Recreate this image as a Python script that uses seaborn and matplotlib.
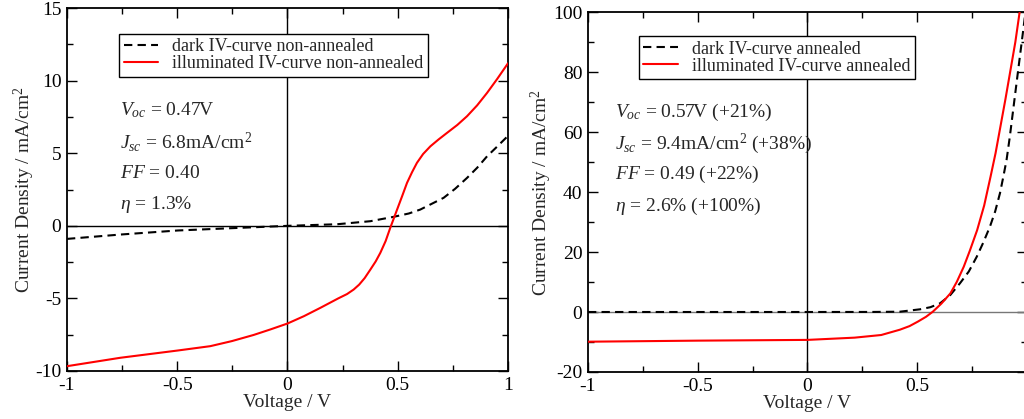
import numpy as np
import pandas as pd
import matplotlib
matplotlib.use("Agg")
import matplotlib.pyplot as plt
import seaborn as sns
from matplotlib.ticker import MultipleLocator

# ---- measured IV data (voltage in V, current density in mA/cm^2) ----
v_dark_na = [-1.0, -0.758, -0.498, -0.252, 0.0, 0.225, 0.376, 0.481, 0.55, 0.602,
             0.708, 0.76, 0.814, 0.86, 0.905, 0.95, 1.0]
j_dark_na = [-0.9, -0.6, -0.32, -0.16, 0.0, 0.11, 0.32, 0.62, 0.85, 1.12,
             1.93, 2.55, 3.30, 4.0, 4.79, 5.45, 6.2]

v_illum_na = [-1.0, -0.758, -0.498, -0.35, -0.252, -0.154, -0.078, 0.0, 0.075, 0.149,
              0.23, 0.27, 0.30, 0.325, 0.35, 0.376, 0.40, 0.421, 0.445, 0.466, 0.497,
              0.52, 0.542, 0.565, 0.587, 0.615, 0.648, 0.685, 0.723, 0.77, 0.814,
              0.86, 0.905, 0.95, 1.0]
j_illum_na = [-9.67, -9.09, -8.59, -8.29, -7.94, -7.52, -7.14, -6.73, -6.22, -5.65,
              -5.0, -4.7, -4.39, -4.05, -3.6, -3.01, -2.45, -1.86, -1.05, -0.14, 1.12,
              2.05, 2.96, 3.7, 4.34, 4.95, 5.48, 5.95, 6.40, 6.95, 7.55,
              8.3, 9.16, 10.1, 11.2]

v_dark_a = [-1.0, -0.5, 0.0, 0.3, 0.421, 0.513, 0.56, 0.604, 0.65, 0.695, 0.735,
            0.771, 0.80, 0.831, 0.855, 0.877, 0.892, 0.907, 0.922, 0.937, 0.960,
            0.983, 1.0]
j_dark_a = [0.0, 0.0, 0.0, 0.02, 0.1, 0.9, 1.6, 2.9, 5.6, 9.6, 13.5,
            18.4, 23.0, 28.4, 33.5, 39.6, 45.0, 50.7, 58.5, 67.3, 80.7,
            94.0, 104.0]

v_illum_a = [-1.0, -0.5, 0.0, 0.215, 0.336, 0.421, 0.465, 0.503, 0.54, 0.571, 0.61,
             0.651, 0.68, 0.712, 0.74, 0.773, 0.805, 0.834, 0.857, 0.879, 0.902,
             0.925, 0.947, 0.968]
j_illum_a = [-9.9, -9.55, -9.3, -8.55, -7.67, -5.9, -4.7, -3.2, -1.6, 0.1, 2.8,
             6.2, 10.0, 15.1, 20.5, 27.3, 35.5, 45.1, 53.0, 61.8, 71.0,
             80.7, 90.0, 100.7]

left_labels = ["dark IV-curve non-annealed", "illuminated IV-curve non-annealed"]
right_labels = ["dark IV-curve annealed", "illuminated IV-curve annealed"]

left_notes = [r"$V_{oc}$ = 0.47V", r"$J_{sc}$ = 6.8mA/cm$^2$",
              r"$FF$ = 0.40", r"$\eta$ = 1.3%"]
right_notes = [r"$V_{oc}$ = 0.57V (+21%)", r"$J_{sc}$ = 9.4mA/cm$^2$ (+38%)",
               r"$FF$ = 0.49 (+22%)", r"$\eta$ = 2.6% (+100%)"]

left_xticks = [-1, -0.5, 0, 0.5, 1]
left_yticks = [-10, -5, 0, 5, 10, 15]
right_xticks = [-1, -0.5, 0, 0.5]
right_yticks = [-20, 0, 20, 40, 60, 80, 100]

sns.set_style("ticks")
plt.rcParams["font.family"] = ["Liberation Serif", "DejaVu Serif"]
plt.rcParams["mathtext.fontset"] = "custom"
plt.rcParams["mathtext.rm"] = "Liberation Serif"
plt.rcParams["mathtext.it"] = "Liberation Serif:italic"
plt.rcParams["mathtext.bf"] = "Liberation Serif:bold"


def frame(xs, ys, label):
    return pd.DataFrame({"V": xs, "J": ys, "curve": label})


fig = plt.figure(figsize=(10.24, 4.19), dpi=100)
ax1 = fig.add_axes([0.0654, 0.1146, 0.4307, 0.866])
ax2 = fig.add_axes([0.5742, 0.1122, 0.4287, 0.859])

panels = [
    (ax1, (v_dark_na, j_dark_na), (v_illum_na, j_illum_na), left_labels, left_notes,
     (-1, 1), (-10, 15), left_xticks, left_yticks, 2.5, "black",
     [0.718, 0.630, 0.545, 0.459], 0.12, (0.118, 0.93)),
    (ax2, (v_dark_a, j_dark_a), (v_illum_a, j_illum_a), right_labels, right_notes,
     (-1, 1), (-20, 100), right_xticks, right_yticks, 10, "#777777",
     [0.721, 0.635, 0.549, 0.461], 0.062, (0.116, 0.933)),
]

for (ax, dark, illum, labels, notes, xlim, ylim, xt, yt, yminor, zero_col,
     note_y, note_x, leg_pos) in panels:
    ax.axvline(0, color="black", lw=1.0, zorder=1)
    ax.axhline(0, color=zero_col, lw=1.0, zorder=1)
    df = pd.concat([frame(*dark, labels[0]), frame(*illum, labels[1])])
    sns.lineplot(data=df, x="V", y="J", hue="curve", style="curve",
                 palette=["black", "#ff0000"], dashes=[(4, 2.5), ""],
                 linewidth=1.5, sort=False, estimator=None, ax=ax, zorder=3)
    ax.set_xlim(*xlim)
    ax.set_ylim(*ylim)
    ax.set_xticks(xt)
    ax.set_xticklabels([f"{t:g}" for t in xt])
    ax.set_yticks(yt)
    ax.set_yticklabels([f"{t:g}" for t in yt])
    ax.xaxis.set_minor_locator(MultipleLocator(0.25))
    ax.yaxis.set_minor_locator(MultipleLocator(yminor))
    ax.tick_params(which="both", direction="in", top=True, right=True,
                   labelsize=14, colors="black", width=1.0)
    ax.tick_params(which="major", length=7, pad=4)
    ax.tick_params(which="minor", length=4)
    for s in ax.spines.values():
        s.set_visible(True)
        s.set_color("black")
        s.set_linewidth(1.3)
    ax.set_xlabel("Voltage / V", fontsize=14, labelpad=0)
    ax.set_ylabel("Current Density / mA/cm$^2$", fontsize=14, labelpad=-1)
    leg = ax.legend(loc="upper left", bbox_to_anchor=leg_pos, fontsize=13,
                    frameon=True, fancybox=False, framealpha=1, edgecolor="black",
                    handlelength=1.9, handletextpad=0.8, labelspacing=0.0,
                    borderpad=0.25, borderaxespad=0)
    leg.get_frame().set_linewidth(1.0)
    for txt, yy in zip(notes, note_y):
        ax.text(note_x, yy, txt, transform=ax.transAxes, fontsize=14,
                va="center", ha="left")

fig.savefig("out.png", dpi=100)
